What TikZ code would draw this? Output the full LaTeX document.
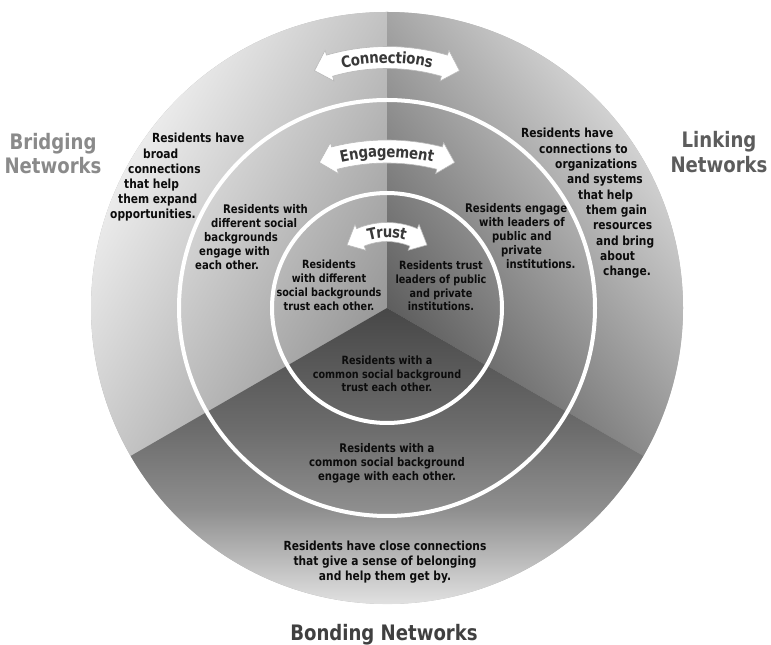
\documentclass[tikz,border=0pt]{standalone}
\usepackage{fontspec}
\setmainfont{DejaVu Sans}[FakeStretch=0.85]
\usetikzlibrary{decorations.text}
\definecolor{cLa}{HTML}{989898}
\definecolor{cLb}{HTML}{ECECEC}
\definecolor{cRa}{HTML}{5E5E5E}
\definecolor{cRb}{HTML}{D2D2D2}
\definecolor{cBa}{HTML}{474747}
\definecolor{cBm}{HTML}{6C6C6C}
\definecolor{cBn}{HTML}{8E8E8E}
\definecolor{cBb}{HTML}{E2E2E2}
\definecolor{txt}{HTML}{0C0C0C}
\definecolor{bantxt}{HTML}{383838}
\definecolor{bridgecol}{HTML}{8A8A8A}
\definecolor{linkcol}{HTML}{5C5C5C}
\definecolor{bondcol}{HTML}{404040}
\pgfdeclarehorizontalshading{shLeft}{100bp}{color(0bp)=(cLa); color(25bp)=(cLa); color(75bp)=(cLb); color(100bp)=(cLb)}
\pgfdeclarehorizontalshading{shRight}{100bp}{color(0bp)=(cRa); color(25bp)=(cRa); color(75bp)=(cRb); color(100bp)=(cRb)}
\pgfdeclarehorizontalshading{shBottom}{100bp}{color(0bp)=(cBa); color(25bp)=(cBa); color(45.3bp)=(cBm); color(58.8bp)=(cBn); color(75bp)=(cBb); color(100bp)=(cBb)}
\newcommand\bannerfont{\fontsize{15.7}{17}\selectfont\bfseries\color{bantxt}}
% #1 centre y, #2 radius, #3 half angle, #4 head angle, #5 half band, #6 half head, #7 text
\newcommand\curvedbanner[7]{%
\begin{scope}[shift={(387,#1)}]
\filldraw[banner] ({90+#3-#4}:{#2+#5}) arc[start angle={90+#3-#4}, end angle={90-#3+#4}, radius={#2+#5}]
  -- ({90-#3+#4}:{#2+#6}) -- ({90-#3}:{#2}) -- ({90-#3+#4}:{#2-#6}) -- ({90-#3+#4}:{#2-#5})
  arc[start angle={90-#3+#4}, end angle={90+#3-#4}, radius={#2-#5}]
  -- ({90+#3-#4}:{#2-#6}) -- ({90+#3}:{#2}) -- ({90+#3-#4}:{#2+#6}) -- cycle;
\path[decorate, decoration={text along path, text align=center, raise=-5.6pt, text={|\bannerfont|#7}}]
  ({90+#3}:{#2}) arc[start angle={90+#3}, end angle={90-#3}, radius={#2}];
\end{scope}}
\tikzset{
  banner/.style={fill=white, draw=gray!55, line width=0.6pt},
  ring/.style={draw=white, line width=4pt},
  outertxt/.style={inner sep=0pt, text=txt, font=\fontsize{12.55}{14}\selectfont\bfseries},
  midtxt/.style={inner sep=0pt, text=txt, font=\fontsize{11.9}{13}\selectfont\bfseries},
  innertxt/.style={inner sep=0pt, text=txt, font=\fontsize{11.35}{12.5}\selectfont\bfseries},
  biglabel/.style={inner sep=0pt, font=\fontsize{21.3}{24}\selectfont\bfseries, anchor=base},
}
\begin{document}
\begin{tikzpicture}[x=1pt, y=1pt]
\useasboundingbox (0,0) rectangle (771,645);
\coordinate (O) at (387,337);
% base disc
\fill[gray!60] (O) circle[radius=296];
% left sector
\begin{scope}
\clip (O) -- ++(90:296) arc[start angle=90, end angle=210, radius=296] -- cycle;
\begin{scope}[transform canvas={rotate around={150:(387,337)}}]
\shade[shading=shLeft] (387,27) rectangle (684,647);
\end{scope}
\end{scope}
% right sector
\begin{scope}
\clip (O) -- ++(90:296) arc[start angle=90, end angle=-30, radius=296] -- cycle;
\begin{scope}[transform canvas={rotate around={38:(387,337)}}]
\shade[shading=shRight] (387,27) rectangle (684,647);
\end{scope}
\end{scope}
% bottom sector
\begin{scope}
\clip (O) -- ++(210:296) arc[start angle=210, end angle=330, radius=296] -- cycle;
\begin{scope}[transform canvas={rotate around={270:(387,337)}}]
\shade[shading=shBottom] (387,27) rectangle (684,647);
\end{scope}
\end{scope}
% white rings
\draw[ring] (O) circle[radius=208];
\draw[ring] (O) circle[radius=115];
% banners
\curvedbanner{381.5}{206}{20.6}{4.4}{11}{16}{Connections}
\curvedbanner{280.5}{213}{18.5}{4.2}{11.5}{16}{Engagement}
\curvedbanner{345}{68}{36}{13}{9.5}{14}{Trust}
% outer left
\foreach \x/\y/\t [count=\i] in {152/502/Residents have, 143/486.8/broad, 128/471.6/connections, 124/456.4/that help, 118/441.2/them expand, 110/426/opportunities.}
  \node[outertxt, anchor=base west] (ol\i) at (\x,\y) {\t};
% outer right
\foreach \x/\y/\t [count=\i] in {521/507/Residents have, 539/491.7/connections to, 555/476.4/organizations, 567/461.1/and systems, 578/445.8/that help, 586/430.5/them gain, 593/415.2/resources, 596/399.9/and bring, 600/384.6/about, 603/369.3/change.}
  \node[outertxt, anchor=base west] (or\i) at (\x,\y) {\t};
% outer bottom
\foreach \y/\t [count=\i] in {94/Residents have close connections, 79/that give a sense of belonging, 64/and help them get by.}
  \node[outertxt, anchor=base] (ob\i) at (385,\y) {\t};
% middle left
\foreach \x/\y/\t [count=\i] in {223/431/Residents with, 211/417.2/different social, 204/403.4/backgrounds, 199/389.6/engage with, 195/375.8/each other.}
  \node[midtxt, anchor=base west] (ml\i) at (\x,\y) {\t};
% middle right
\foreach \x/\y/\t [count=\i] in {465/432/Residents engage, 479/418.2/with leaders of, 492/404.4/public and, 501/390.6/private, 506/376.8/institutions.}
  \node[midtxt, anchor=base west] (mr\i) at (\x,\y) {\t};
% middle bottom
\foreach \y/\t [count=\i] in {192/Residents with a, 178/common social background, 164/engage with each other.}
  \node[midtxt, anchor=base] (mb\i) at (387,\y) {\t};
% inner left
\foreach \y/\t [count=\i] in {376/Residents, 362/with different, 348/social backgrounds, 334/trust each other.}
  \node[innertxt, anchor=base] (il\i) at (329,\y) {\t};
% inner right
\foreach \y/\t [count=\i] in {375/Residents trust, 361/leaders of public, 347.5/and private, 334/institutions.}
  \node[innertxt, anchor=base] (ir\i) at (441,\y) {\t};
% inner bottom
\foreach \y/\t [count=\i] in {280/Residents with a, 266.5/common social background, 253/trust each other.}
  \node[innertxt, anchor=base] (ib\i) at (387,\y) {\t};
% big labels
\node[biglabel, text=bridgecol] (bridge1) at (53,495.5) {Bridging};
\node[biglabel, text=bridgecol] (bridge2) at (53,471) {Networks};
\node[biglabel, text=linkcol] (link1) at (719,497.5) {Linking};
\node[biglabel, text=linkcol] (link2) at (719,472) {Networks};
\node[biglabel, text=bondcol] (bond) at (384,4) {Bonding Networks};
\end{tikzpicture}
\end{document}
